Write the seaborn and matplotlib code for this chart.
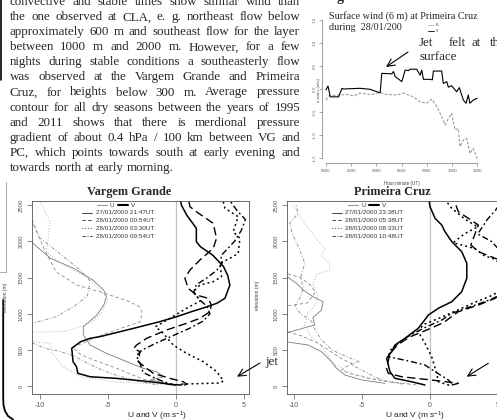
import numpy as np
import pandas as pd
import matplotlib
matplotlib.use("Agg")
import matplotlib.pyplot as plt
from matplotlib.lines import Line2D
from matplotlib.patches import FancyArrowPatch
from matplotlib.font_manager import FontProperties
import seaborn as sns

# ---------------- data ----------------
body_lines = [
    "convective and stable times show similar wind than",
    "the one observed at CLA, e. g. northeast flow below",
    "approximately 600 m and southeast flow for the layer",
    "between 1000 m and 2000 m. However, for a few",
    "nights during stable conditions a southeasterly flow",
    "was observed at the Vargem Grande and Primeira",
    "Cruz, for heights below 300 m. Average pressure",
    "contour for all dry seasons between the years of 1995",
    "and 2011 shows that there is merdional pressure",
    "gradient of  about 0.4 hPa / 100 km between VG and",
    "PC, which points towards south at early evening and",
    "towards north at early morning.",
]

# inset: surface wind at Primeira Cruz
inset_hours_v = [0.0, 0.16, 0.34, 1.0, 1.27, 1.4, 1.93, 2.72, 3.51, 4.04, 4.3, 4.43, 5.22, 5.36, 5.49,
                 6.02, 6.28, 6.54, 6.68, 7.2, 7.47, 7.6, 7.73, 8.26, 8.44, 8.52, 9.18, 9.31, 9.58,
                 9.71, 9.97, 10.37, 10.58, 10.9, 11.11, 11.29, 11.42, 11.69, 12.0]
inset_v = [-0.02, 0.065, -0.17, -0.17, 0.015, 0.0, 0.007, 0.015, -0.007, -0.06, -0.08, 0.34, 0.33, 0.38, 0.27,
           0.16, 0.41, 0.40, 0.43, 0.43, 0.30, 0.41, 0.21, 0.21, 0.20, 0.39, 0.39, 0.12, 0.16,
           0.04, 0.07, -0.06, 0.03, -0.24, -0.31, -0.13, -0.31, -0.24, -0.20]
inset_hours_u = [0.0, 0.21, 1.13, 1.66, 2.19, 2.72, 3.51, 4.3, 4.83, 5.62, 6.15, 6.94, 7.47, 7.99, 8.39,
                 8.79, 9.18, 9.45, 9.71, 9.97, 10.24, 10.5, 10.63, 10.9, 11.16, 11.42, 11.69, 12.0]
inset_u = [-0.24, -0.15, -0.13, -0.12, -0.15, -0.09, -0.12, -0.08, -0.12, -0.13, -0.09, -0.17, -0.28, -0.31, -0.22,
           -0.38, -0.60, -0.78, -0.64, -0.53, -0.89, -0.86, -1.25, -1.11, -1.07, -1.40, -1.29, -1.51]
inset_xticks = [0, 2, 4, 6, 8, 10, 12]
inset_xticklabels = ["0000", "0200", "0400", "0600", "0800", "1000", "1200"]
inset_yticks = [-1.5, -1.0, -0.5, 0.0, 0.5, 1.0, 1.5]

profile_xticks = [-10, -5, 0, 5]
profile_yticks = [0, 500, 1000, 1500, 2000, 2500]

vg_times = ["27/01/2000 21:47UT", "28/01/2000 00:54UT", "28/01/2000 03:30UT", "28/01/2000 09:54UT"]
pc_times = ["27/01/2000 23:38UT", "28/01/2000 05:38UT", "28/01/2000 08:33UT", "28/01/2000 10:48UT"]

# Vargem Grande - V (m/s) vs elevation (m)
vg_v1_x = [0.4, -0.4, -0.9, -2.4, -4.4, -6.3, -7.2, -7.3, -7.55, -7.65, -7.0, -6.3, -5.6, -3.1, -1.2, 0.05, 1.15, 2.0, 3.0, 3.6, 3.96, 3.8, 3.5, 2.7, 1.8, 1.5, 1.5, 0.8, 0.4, 0.3]
vg_v1_h = [18, 25, 41, 73, 110, 132, 179, 270, 340, 524, 615, 662, 684, 800, 891, 960, 1030, 1080, 1145, 1214, 1397, 1530, 1650, 1810, 1925, 1995, 2180, 2360, 2500, 2600]
vg_v2_x = [0.6, 0.78, 0.54, -0.44, -1.66, -2.15, -2.77, -2.64, -3.1, -2.88, -2.15, -0.68, 0.78, 1.76, 2.5, 2.6, 2.37, 1.5, 0.9, 0.66, 1.03, 1.76, 2.74, 2.98, 2.74, 1.5, 1.03, 0.9]
vg_v2_h = [15, 30, 63, 110, 179, 248, 340, 477, 524, 570, 662, 777, 869, 938, 1029, 1121, 1214, 1259, 1352, 1490, 1604, 1742, 1903, 2041, 2248, 2408, 2477, 2600]
vg_v3_x = [0.4, 1.8, 3.2, 3.5, 3.0, 2.0, 0.78, -0.2, -0.93, -1.5, -0.44, 0.78, 1.8, 1.27, 1.76, 2.74, 3.35, 3.23, 3.96, 4.57, 4.7, 4.2, 4.57, 3.6, 3.4]
vg_v3_h = [30, 38, 45, 75, 202, 340, 455, 570, 731, 822, 938, 1076, 1180, 1305, 1397, 1443, 1512, 1697, 1765, 1834, 2041, 2133, 2340, 2455, 2600]
vg_v4_x = [0.0, -0.6, -1.4, -2.4, -2.6, -2.9, -2.5, -1.4, -0.2, 1.0, 2.0, 2.5, 2.3, 1.7, 1.3, 1.5, 2.3, 3.0, 3.4, 3.3, 3.8, 4.3, 4.8, 5.1, 4.5, 4.0]
vg_v4_h = [15, 45, 100, 190, 300, 420, 500, 600, 700, 800, 900, 1000, 1100, 1200, 1300, 1400, 1500, 1600, 1700, 1800, 1900, 2000, 2150, 2300, 2420, 2550]
# Vargem Grande - U
vg_u1_x = [-0.2, -0.7, -1.9, -0.9, -1.4, -2.4, -3.6, -5.1, -6.3, -6.8, -6.8, -5.8, -5.3, -5.1, -5.3, -6.1, -7.5, -9.2, -10.5, -11.5]
vg_u1_h = [18, 41, 87, 132, 202, 248, 340, 455, 570, 708, 822, 983, 1121, 1236, 1328, 1466, 1627, 1765, 1972, 2100]
vg_u2_x = [-0.5, -1.3, -2.4, -3.2, -4.5, -6.0, -7.0, -7.6, -6.5, -5.8, -4.4, -2.6, -2.5, -2.7, -3.4, -5.6, -7.3, -8.8, -9.7, -10.5, -11.0]
vg_u2_h = [20, 50, 100, 160, 260, 360, 440, 540, 620, 684, 777, 891, 1029, 1100, 1167, 1305, 1397, 1581, 1903, 2270, 2400]
vg_u3_x = [-0.9, -2.4, -4.6, -7.0, -8.3, -9.1, -9.24, -10.7, -12.0, -12.0, -10.6, -8.27, -7.04, -6.3, -5.5, -5.0, -5.4, -6.5, -8.5, -9.5, -9.24, -9.85, -10.0]
vg_u3_h = [20, 41, 63, 132, 270, 455, 593, 615, 620, 740, 750, 753, 822, 869, 1000, 1200, 1300, 1500, 1700, 1857, 2270, 2500, 2600]
vg_u4_x = [-1.5, -3.0, -4.5, -5.5, -6.5, -7.5, -8.5, -9.5, -10.6, -12.0, -12.0, -10.5, -8.8, -7.5, -6.5, -6.3, -7.0, -8.0, -9.0, -10.0, -10.4, -10.8]
vg_u4_h = [25, 80, 160, 230, 320, 420, 480, 520, 600, 640, 860, 870, 960, 1100, 1250, 1450, 1600, 1750, 1900, 2050, 2200, 2300]

# Primeira Cruz - V
pc_v1_x = [-0.37, -1.35, -2.57, -2.94, -3.06, -3.18, -2.82, -2.57, -1.84, -0.86, -0.12, 0.61, 1.6, 2.33, 2.7, 2.7, 2.33, 1.6, 1.1, 0.86, 0.37, 0.0, -0.1]
pc_v1_h = [18, 63, 110, 202, 294, 386, 477, 570, 662, 800, 983, 1076, 1167, 1305, 1490, 1697, 1857, 1995, 2133, 2225, 2317, 2477, 2600]
pc_v2_x = [1.6, 2.08, 0.12, -2.08, -3.06, -3.2, -3.0, -2.8, -2.4, -1.5, -0.2, 1.0, 2.08, 3.55, 4.78, 5.8, 6.0, 5.0, 3.55, 3.0, 3.55, 2.08, 1.8]
pc_v2_h = [18, 41, 87, 132, 179, 250, 400, 480, 570, 680, 780, 880, 1029, 1121, 1214, 1350, 1600, 1750, 1857, 1950, 2225, 2408, 2550]
pc_v3_x = [1.4, 0.61, 0.49, 0.12, -0.37, -0.86, -0.5, 0.8, 2.0, 3.2, 4.5, 5.5, 5.6, 4.8, 4.0, 3.3, 1.7, 2.5, 3.5, 2.6, 1.6, 1.2]
pc_v3_h = [15, 63, 179, 409, 593, 753, 850, 950, 1050, 1150, 1250, 1350, 1600, 1750, 1800, 1900, 1980, 2100, 2200, 2300, 2455, 2550]
pc_v4_x = [1.6, 1.35, 0.37, -0.37, -1.35, -3.06, -2.9, -2.3, -1.5, -0.5, 0.86, 1.6, 3.0, 4.5, 5.5, 5.8, 5.3, 5.0, 4.5, 3.5, 4.2, 4.9, 5.2]
pc_v4_h = [41, 87, 202, 294, 340, 409, 500, 600, 700, 800, 914, 1007, 1100, 1200, 1300, 1500, 1700, 1900, 2000, 2100, 2300, 2450, 2550]
# Primeira Cruz - U
pc_u1_x = [-3.3, -5.0, -6.25, -6.86, -7.23, -7.96, -8.95, -10.6, -12.0, -12.0, -10.66, -8.46, -8.6, -7.96, -7.85, -8.6, -9.3, -9.8, -10.5, -11.5]
pc_u1_h = [41, 87, 156, 248, 340, 477, 570, 615, 620, 730, 731, 846, 950, 1052, 1167, 1236, 1328, 1420, 1512, 1620]
pc_u2_x = [-1.0, -3.0, -4.54, -6.0, -6.5, -5.75, -6.5, -8.2, -9.5, -10.6, -12.0, -12.0, -10.5, -9.0, -8.4, -8.8, -9.5, -10.6, -11.5]
pc_u2_h = [20, 60, 110, 180, 225, 317, 380, 593, 700, 760, 770, 1100, 1110, 1150, 1300, 1400, 1500, 1560, 1600]
pc_u3_x = [-1.5, -3.0, -4.5, -6.0, -7.0, -7.5, -8.0, -8.8, -9.2, -9.0, -8.5, -8.2, -8.6, -8.3, -7.35, -7.4, -8.0, -7.7, -7.96, -8.8, -9.6, -10.0]
pc_u3_h = [30, 70, 120, 200, 300, 420, 560, 700, 850, 1000, 1100, 1250, 1400, 1550, 1604, 1700, 1800, 1900, 1950, 2150, 2350, 2500]
pc_u4_x = [-2.0, -3.5, -5.8, -5.2, -6.0, -7.2, -8.0, -8.5, -8.7, -9.5, -9.9, -9.6, -9.3, -9.5, -9.2, -9.6, -10.1, -10.3, -9.7, -9.8]
pc_u4_h = [30, 80, 300, 340, 400, 500, 650, 800, 900, 1000, 1100, 1200, 1350, 1500, 1700, 1900, 2100, 2250, 2380, 2500]

# ---------------- setup ----------------
W, H, DPI = 497, 420, 100
sns.set_theme(style="ticks", context="paper")
plt.rcParams['font.family'] = ['Liberation Sans', 'DejaVu Sans']
plt.rcParams['mathtext.fontset'] = 'custom'
plt.rcParams['mathtext.rm'] = 'Liberation Sans'
plt.rcParams['mathtext.it'] = 'Liberation Sans:italic'
plt.rcParams['mathtext.default'] = 'regular'

fig = plt.figure(figsize=(W / DPI, H / DPI), dpi=DPI, facecolor='white')
renderer = fig.canvas.get_renderer()


def fbox(x0, y0, x1, y1):
    return [x0 / W, 1 - y1 / H, (x1 - x0) / W, (y1 - y0) / H]


def ftext(px, py, s, **kw):
    return fig.text(px / W, 1 - py / H, s, **kw)


def fline(xs, ys, **kw):
    fig.add_artist(Line2D([x / W for x in xs], [1 - y / H for y in ys],
                          transform=fig.transFigure, **kw))


def farrow(x0, y0, x1, y1):
    fig.add_artist(FancyArrowPatch((x0 / W, 1 - y0 / H), (x1 / W, 1 - y1 / H),
                                   transform=fig.transFigure,
                                   arrowstyle='->,head_length=0.45,head_width=0.22',
                                   mutation_scale=12, lw=0.8, color='black',
                                   shrinkA=0, shrinkB=0))


# ---------------- body text (justified) ----------------
serif_fp = FontProperties(family='Liberation Serif', size=9.4)


def wwidth(s):
    return renderer.get_text_width_height_descent(s, serif_fp, ismath=False)[0]


space_w = wwidth('a a') - wwidth('aa')
LEFT, RIGHT = 10, 300
for i, line in enumerate(body_lines):
    base = 1.6 + 15.05 * i + 3.6
    words = line.split()
    widths = [wwidth(w) for w in words]
    last = (i == len(body_lines) - 1)
    gap = space_w if last else (RIGHT - LEFT - sum(widths)) / (len(words) - 1)
    x = LEFT
    for w, wd in zip(words, widths):
        ftext(x, base, w, fontproperties=serif_fp, va='baseline', ha='left')
        x += wd + gap

# ---------------- inset time series ----------------
ax_in = fig.add_axes(fbox(322.2, 14.9, 481.0, 163.1))
ax_in.set_facecolor('none')
sns.lineplot(x=inset_hours_u, y=inset_u, ax=ax_in, color='#9a9a9a', lw=0.8,
             sort=False, estimator=None)
ax_in.lines[-1].set_dashes([2.5, 1.5])
sns.lineplot(x=inset_hours_v, y=inset_v, ax=ax_in, color='black', lw=0.8,
             sort=False, estimator=None)
ax_in.set_xlim(-0.3, 12.3)
ax_in.set_ylim(-1.61, 1.61)
for s in ['top', 'right']:
    ax_in.spines[s].set_visible(False)
ax_in.spines['left'].set_bounds(-1.5, 1.5)
ax_in.spines['bottom'].set_bounds(0, 12)
for s in ['left', 'bottom']:
    ax_in.spines[s].set_color('#777777')
    ax_in.spines[s].set_linewidth(0.5)
ax_in.set_xticks(inset_xticks)
ax_in.set_xticklabels(inset_xticklabels)
ax_in.set_yticks(inset_yticks)
ax_in.set_yticklabels([f"{v:.1f}" for v in inset_yticks], rotation=90, va='center')
ax_in.tick_params(length=2.5, width=0.4, colors='#666666', labelsize=3.2, pad=1.5, direction='out')
ax_in.set_xlabel('')
ax_in.set_ylabel('')

ftext(329, 16, "Surface wind (6 m) at Primeira Cruz", family='Liberation Serif', size=7.3, va='center')
ftext(329, 27, "during  28/01/200", family='Liberation Serif', size=7.3, va='center')
fline([428, 434], [25, 25], color='#888888', lw=0.5, ls=(0, (2, 1)))
ftext(436, 25, "u", size=3.3, va='center', color='#444444')
fline([428, 434], [30.5, 30.5], color='black', lw=0.6)
ftext(436, 30.5, "v", size=3.3, va='center', color='#444444')
ftext(402, 183, "Hour:minute (UT)", size=3.3, ha='center', va='center', color='#444444')
ftext(319, 90, "u and v (m/s)", size=3.0, rotation=90, ha='center', va='center', color='#444444')

jet_fp = FontProperties(family='Liberation Serif', size=9.4)
for word, px in zip(["Jet", "felt", "at", "th"], [419, 449, 471.5, 490]):
    ftext(px, 46, word, fontproperties=jet_fp, va='baseline')
ftext(419, 60, "surface", fontproperties=jet_fp, va='baseline')
farrow(408, 52, 386, 67)
ftext(337, 1.0, "g", family='Liberation Serif', weight='bold', size=10, va='baseline')

# ---------------- profile panels ----------------
u_styles = [dict(color='#7a7a7a', dashes=None),
            dict(color='#8a8a8a', dashes=[4, 3]),
            dict(color='#a8a8a8', dashes=[1.2, 2.2]),
            dict(color='#8a8a8a', dashes=[4, 2.2, 1.2, 2.2])]
v_styles = [dict(color='black', dashes=None, lw=1.1),
            dict(color='black', dashes=[6, 3], lw=1.0),
            dict(color='black', dashes=[1.3, 2.0], lw=1.1),
            dict(color='black', dashes=[4.5, 2, 1.3, 2], lw=1.0)]
legend_dashes = [None, [4, 3], [1.2, 2], [4, 2, 1.2, 2]]


def draw_panel(px_left, xmin, us, vs, times, leg_line_x, leg_text_x, uv_x):
    ax = fig.add_axes(fbox(px_left, 201, px_left + 217, 394))
    ax.set_facecolor('none')
    ax.axvline(0, color='#c4c4c4', lw=0.9, zorder=0)
    for (xs, hs), st in zip(us, u_styles):
        sns.lineplot(x=xs, y=hs, ax=ax, color=st['color'], lw=0.6, sort=False, estimator=None)
        if st['dashes']:
            ax.lines[-1].set_dashes(st['dashes'])
    for (xs, hs), st in zip(vs, v_styles):
        sns.lineplot(x=xs, y=hs, ax=ax, color=st['color'], lw=st['lw'], sort=False, estimator=None)
        if st['dashes']:
            ax.lines[-1].set_dashes(st['dashes'])
    ax.set_xlim(xmin, xmin + 15.93)
    ax.set_ylim(-106, 2556)
    ax.set_xticks(profile_xticks)
    ax.set_xticklabels([str(t) for t in profile_xticks])
    ax.set_yticks(profile_yticks)
    ax.set_yticklabels([str(t) for t in profile_yticks], rotation=90, va='center')
    ax.tick_params(axis='x', length=3.5, width=0.5, colors='#555555', labelsize=5, pad=2)
    ax.tick_params(axis='y', length=3.5, width=0.5, colors='#555555', labelsize=4.3, pad=2.5)
    for s in ax.spines.values():
        s.set_color('#555555')
        s.set_linewidth(0.6)
    ax.set_xlabel('')
    ax.set_ylabel('')
    # legend
    fline([uv_x, uv_x + 10], [205, 205], color='#9a9a9a', lw=0.8)
    ftext(uv_x + 13, 205, "U", size=4.6, va='center', color='#333333')
    fline([uv_x + 21, uv_x + 31], [205, 205], color='black', lw=1.5)
    ftext(uv_x + 34, 205, "V", size=4.6, va='center', color='#333333')
    for k, (t, dsh) in enumerate(zip(times, legend_dashes)):
        yy = 212.5 + 7.9 * k
        kw = dict(color='#222222', lw=0.6)
        if dsh:
            kw['dashes'] = dsh
        fline([leg_line_x, leg_line_x + 10], [yy, yy], **kw)
        ftext(leg_text_x, yy, t, size=4.6, va='center', color='#333333')
    return ax


vg_u = [(vg_u1_x, vg_u1_h), (vg_u2_x, vg_u2_h), (vg_u3_x, vg_u3_h), (vg_u4_x, vg_u4_h)]
vg_v = [(vg_v1_x, vg_v1_h), (vg_v2_x, vg_v2_h), (vg_v3_x, vg_v3_h), (vg_v4_x, vg_v4_h)]
pc_u = [(pc_u1_x, pc_u1_h), (pc_u2_x, pc_u2_h), (pc_u3_x, pc_u3_h), (pc_u4_x, pc_u4_h)]
pc_v = [(pc_v1_x, pc_v1_h), (pc_v2_x, pc_v2_h), (pc_v3_x, pc_v3_h), (pc_v4_x, pc_v4_h)]

draw_panel(32, -10.565, vg_u, vg_v, vg_times, 82, 96.5, 97)
draw_panel(286.7, -10.52, pc_u, pc_v, pc_times, 332, 345, 348)

title_fp = FontProperties(family='Liberation Serif', weight='bold', size=8.8)
ftext(129, 192, "Vargem Grande", fontproperties=title_fp, ha='center', va='center')
ftext(392, 192, "Primeira Cruz", fontproperties=title_fp, ha='center', va='center')
ftext(157, 416.5, "U and V (m s$^{-1}$)", size=6.0, ha='center', va='center', color='#222222')
ftext(415, 416.5, "U and V (m s$^{-1}$)", size=6.0, ha='center', va='center', color='#222222')
ftext(6, 297, "elevation (m)", size=3.6, rotation=90, ha='center', va='center', color='#444444')
ftext(257, 295, "elevation (m)", size=3.6, rotation=90, ha='center', va='center', color='#444444')
ftext(265, 362, "jet", family='Liberation Serif', size=9.4, va='center')
farrow(260, 363, 237, 376.7)
farrow(488.3, 363.3, 466.7, 376.7)

# ---------------- page artifacts ----------------
fline([1.2, 1.2], [0, 80], color='black', lw=1.2)
fline([5.5, 5.5, 0], [182, 272, 272], color='#9a9a9a', lw=0.6)
fline([3.2, 3.2, 3.5, 5, 8, 13], [300, 398, 405, 411, 416, 419.5], color='black', lw=1.3)

fig.savefig('out.png', dpi=DPI, facecolor='white')
